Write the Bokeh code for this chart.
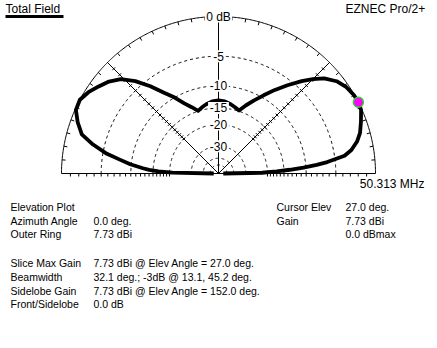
import numpy as np
from bokeh.plotting import figure
from bokeh.models import Range1d
from bokeh.embed import file_html
from bokeh.resources import INLINE
from bokeh.core.properties import value

# ---------------- data ----------------
elev_deg = [0, 1, 2, 3, 4, 5, 6, 8, 10, 13, 16, 20, 24, 27, 30, 34, 38, 42, 45, 48,
            52, 56, 60, 64, 68, 72, 76, 80, 85, 90, 95, 100, 104, 108, 112, 116, 120,
            124, 128, 132, 136, 140, 144, 148, 152, 156, 160, 164, 167, 170, 172, 174,
            176, 177, 178, 179, 180]
gain_db = [-60, -22, -17, -13.5, -10.5, -8.0, -6.2, -3.6, -2.6, -1.7, -1.1, -0.6, -0.1, 0.0,
           -0.05, -0.3, -0.8, -1.7, -2.8, -4.0, -5.8, -7.6, -9.5, -11.3, -13.0, -14.8,
           -14.3, -13.8, -13.3, -13.1, -13.3, -13.8, -14.3, -14.9, -13.5, -12.0, -10.0,
           -8.2, -6.0, -4.0, -2.5, -1.6, -1.0, -0.4, 0.0, -0.1, -0.8, -1.7, -3.4, -5.6,
           -7.8, -9.8, -12.5, -14.0, -16.5, -21.0, -60]
ring_db = [-5, -10, -15, -20, -30, -40, -50]
ring_label_db = [0, -5, -10, -15, -20, -30]
ring_labels = ["0 dB", "-5", "-10", "-15", "-20", "-30"]
spoke_deg = [45, 90, 135]
cursor_elev = [27.0]
cursor_db = [0.0]

title_text = "Total Field"
brand_text = "EZNEC Pro/2+"
freq_text = "50.313 MHz"
info_left_labels = ["Elevation Plot", "Azimuth Angle", "Outer Ring"]
info_left_values = ["", "0.0 deg.", "7.73 dBi"]
info_right_labels = ["Cursor Elev", "Gain", ""]
info_right_values = ["27.0 deg.", "7.73 dBi", "0.0 dBmax"]
summary_labels = ["Slice Max Gain", "Beamwidth", "Sidelobe Gain", "Front/Sidelobe"]
summary_values = ["7.73 dBi @ Elev Angle = 27.0 deg.",
                  "32.1 deg.; -3dB @ 13.1, 45.2 deg.",
                  "7.73 dBi @ Elev Angle = 152.0 deg.",
                  "0.0 dB"]

# ---------------- geometry ----------------
W, H = 437, 348
CX, CY, R = 218.0, 173.0, 157.0
FONT = value("Liberation Sans")


def rad(db):
    return R * 0.89 ** (-np.asarray(db, dtype=float) / 2.0)


def pol(theta_deg, r):
    t = np.radians(np.asarray(theta_deg, dtype=float))
    return CX + r * np.cos(t), CY - r * np.sin(t)


p = figure(width=W, height=H, x_range=Range1d(0, W), y_range=Range1d(H, 0),
           output_backend="svg", toolbar_location=None, min_border=0,
           x_axis_location=None, y_axis_location=None)
p.grid.visible = False
p.outline_line_color = None
p.background_fill_color = "white"
p.border_fill_color = "white"

# dashed rings
th = np.linspace(0, 180, 361)
for db in ring_db:
    x, y = pol(th, rad(db))
    p.line(x, y, line_color="black", line_width=1, line_dash="3 3")

# outer ring
x, y = pol(th, rad(0))
p.line(x, y, line_color="black", line_width=1)

# baseline
p.line([CX - R, CX + R], [CY, CY], line_color="black", line_width=1)

# spokes
for a in spoke_deg:
    x, y = pol([a, a], np.array([0.0, R]))
    p.line(x, y, line_color="black", line_width=1)

# outer ring ticks every 5 deg
tick_a = np.arange(5, 180, 5)
x0, y0 = pol(tick_a, R)
x1, y1 = pol(tick_a, R - 3.5)
p.segment(x0, y0, x1, y1, line_color="black", line_width=1)

# baseline ticks at each dB
tdb = np.arange(-1, -21, -1)
for sgn in (-1, 1):
    xs = CX + sgn * rad(tdb)
    p.segment(xs, np.full_like(xs, CY), xs, np.full_like(xs, CY + 3),
              line_color="black", line_width=1)

# diagonal ticks (perpendicular)
for a in (45, 135):
    r = rad(tdb)
    xc, yc = pol(np.full_like(r, a), r)
    t = np.radians(a + 90)
    dx, dy = 2 * np.cos(t), -2 * np.sin(t)
    p.segment(xc - dx, yc - dy, xc + dx, yc + dy, line_color="black", line_width=1)

# pattern
px, py = pol(elev_deg, rad(gain_db))
p.line(px, py, line_color="black", line_width=3.8, line_join="round")

# cursor marker
mx, my = pol(cursor_elev, rad(cursor_db))
p.scatter(mx, my, size=10, marker="circle", fill_color="#ff00ff",
          line_color="#33cc33", line_width=1.5)

# ring labels on vertical axis, with white backing boxes
lx, ly = pol([90] * len(ring_label_db), rad(ring_label_db))
box_hw = np.array([len(s) * 3.3 + 0.5 for s in ring_labels])
p.quad(left=lx - box_hw, right=lx + box_hw, top=ly - 6, bottom=ly + 6,
       fill_color="white", line_color=None)
p.text(lx, ly, text=ring_labels, text_font=FONT, text_font_size="12px",
       text_align="center", text_baseline="middle", text_color="black")

# header texts
p.text([5], [8], text=[title_text], text_font=FONT, text_font_size="12px",
       text_align="left", text_baseline="middle", text_color="black")
p.line([5, 63], [16, 16], line_color="black", line_width=3)
p.text([345], [8], text=[brand_text], text_font=FONT, text_font_size="12px",
       text_align="left", text_baseline="middle", text_color="black")
p.text([424], [183], text=[freq_text], text_font=FONT, text_font_size="12px",
       text_align="right", text_baseline="middle", text_color="black")

# info blocks
rows1 = [206, 220, 233]
p.text([10] * 3, rows1, text=info_left_labels, text_font=FONT, text_font_size="10.5px",
       text_baseline="middle", text_color="black")
p.text([93] * 3, rows1, text=info_left_values, text_font=FONT, text_font_size="10.5px",
       text_baseline="middle", text_color="black")
p.text([276] * 3, rows1, text=info_right_labels, text_font=FONT, text_font_size="10.5px",
       text_baseline="middle", text_color="black")
p.text([345] * 3, rows1, text=info_right_values, text_font=FONT, text_font_size="10.5px",
       text_baseline="middle", text_color="black")
rows2 = [262, 276, 290, 303]
p.text([10] * 4, rows2, text=summary_labels, text_font=FONT, text_font_size="10.5px",
       text_baseline="middle", text_color="black")
p.text([93] * 4, rows2, text=summary_values, text_font=FONT, text_font_size="10.5px",
       text_baseline="middle", text_color="black")

html = file_html(p, INLINE)
html = html.replace("<head>", "<head><style>body{margin:0;padding:0;}</style>", 1)
open("out.html", "w").write(html)
